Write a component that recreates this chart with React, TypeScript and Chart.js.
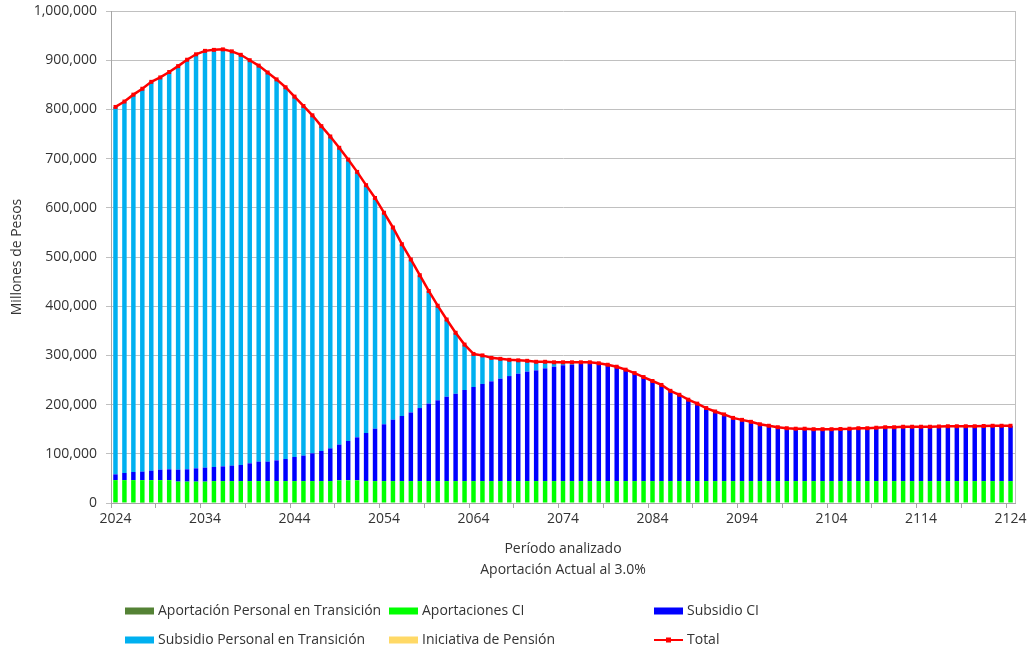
import React, { useEffect, useRef } from 'react';
import { Chart, registerables } from 'chart.js';

Chart.register(...registerables);

const FONT = "'Open Sans', 'Noto Sans', sans-serif";

const years: string[] = Array.from({ length: 101 }, (_, i) => String(2024 + i));

const aportacionPersonal = [
  1500, 1200, 1000, 800, 0, 0, 0, 0, 0, 0,
  0, 0, 0, 0, 0, 0, 0, 0, 0, 0,
  0, 0, 0, 0, 0, 0, 0, 0, 0, 0,
  0, 0, 0, 0, 0, 0, 0, 0, 0, 0,
  0, 0, 0, 0, 0, 0, 0, 0, 0, 0,
  0, 0, 0, 0, 0, 0, 0, 0, 0, 0,
  0, 0, 0, 0, 0, 0, 0, 0, 0, 0,
  0, 0, 0, 0, 0, 0, 0, 0, 0, 0,
  0, 0, 0, 0, 0, 0, 0, 0, 0, 0,
  0, 0, 0, 0, 0, 0, 0, 0, 0, 0,
  0,
];

const aportacionesCI = [
  45000, 45300, 45500, 45700, 46500, 46500, 46500, 43500, 43500, 43500,
  43500, 44500, 44500, 44500, 44500, 44500, 44500, 44500, 44500, 44500,
  44500, 44500, 44500, 44500, 44500, 46000, 46000, 46000, 44500, 44500,
  44500, 44500, 44500, 44500, 44500, 44500, 44500, 44500, 44500, 44500,
  44500, 44500, 44500, 44500, 44500, 44500, 44500, 44500, 44500, 44500,
  44500, 44500, 44500, 44500, 44500, 44500, 44500, 44500, 44500, 44500,
  44500, 44500, 44500, 44500, 44500, 44500, 44500, 44500, 44500, 44500,
  44500, 44500, 44500, 44500, 44500, 44500, 44500, 44500, 44500, 44500,
  44500, 44500, 44500, 44500, 44500, 44500, 44500, 44500, 44500, 44500,
  44500, 44500, 44500, 44500, 44500, 44500, 44500, 44500, 44500, 44500,
  44500,
];

const subsidioCI = [
  11800, 14500, 16500, 17200, 19200, 21200, 22000, 24200, 25000, 27000,
  28300, 28700, 30000, 31400, 32700, 36200, 39500, 39500, 42200, 44900,
  49000, 51700, 56500, 61200, 66500, 72600, 80000, 87500, 97800, 106500,
  115500, 124800, 132300, 139500, 148500, 157500, 164200, 171500, 177500, 185200,
  191300, 197500, 202800, 208200, 213500, 218300, 222500, 225100, 229200, 232500,
  235500, 236500, 238000, 239500, 239500, 236500, 232500, 226500, 219500, 211500,
  203500, 195500, 183500, 175500, 165500, 157500, 148500, 141500, 135500, 128500,
  124500, 120500, 115500, 112500, 109500, 107500, 106500, 106500, 105500, 105500,
  105500, 106000, 106500, 107500, 107500, 108500, 109500, 109500, 110500, 110500,
  110500, 110500, 111000, 111500, 111500, 111500, 111500, 112000, 112500, 112500,
  112500,
];

const subsidioPersonal = [
  746700, 755000, 767000, 778300, 790300, 797300, 807500, 820300, 832500, 841500,
  847200, 847800, 847500, 842100, 833800, 819300, 805000, 791000, 774300, 755600,
  732500, 710800, 687000, 660300, 634000, 603400, 572000, 539500, 503700, 469000,
  430000, 390700, 349200, 311000, 270000, 229000, 192300, 157000, 124000, 92300,
  67200, 58000, 47700, 40300, 33000, 27200, 22000, 17400, 13300, 9000,
  6000, 5000, 3500, 2000, 0, 0, 0, 0, 0, 0,
  0, 0, 0, 0, 0, 0, 0, 0, 0, 0,
  0, 0, 0, 0, 0, 0, 0, 0, 0, 0,
  0, 0, 0, 0, 0, 0, 0, 0, 0, 0,
  0, 0, 0, 0, 0, 0, 0, 0, 0, 0,
  0,
];

const iniciativaPension = [
  0, 0, 0, 0, 0, 0, 0, 0, 0, 0,
  0, 0, 0, 0, 0, 0, 0, 0, 0, 0,
  0, 0, 0, 0, 0, 0, 0, 0, 0, 0,
  0, 0, 0, 0, 0, 0, 0, 0, 0, 0,
  0, 0, 0, 0, 0, 0, 0, 0, 0, 0,
  0, 0, 0, 0, 0, 0, 0, 0, 0, 0,
  0, 0, 0, 0, 0, 0, 0, 0, 0, 0,
  0, 0, 0, 0, 0, 0, 0, 0, 0, 0,
  0, 0, 0, 0, 0, 0, 0, 0, 0, 0,
  0, 0, 0, 0, 0, 0, 0, 0, 0, 0,
  0,
];

const total = [
  805000, 816000, 830000, 842000, 856000, 865000, 876000, 888000, 901000, 912000,
  919000, 921000, 922000, 918000, 911000, 900000, 889000, 875000, 861000, 845000,
  826000, 807000, 788000, 766000, 745000, 722000, 698000, 673000, 646000, 620000,
  590000, 560000, 526000, 495000, 463000, 431000, 401000, 373000, 346000, 322000,
  303000, 300000, 295000, 293000, 291000, 290000, 289000, 287000, 287000, 286000,
  286000, 286000, 286000, 286000, 284000, 281000, 277000, 271000, 264000, 256000,
  248000, 240000, 228000, 220000, 210000, 202000, 193000, 186000, 180000, 173000,
  169000, 165000, 160000, 157000, 154000, 152000, 151000, 151000, 150000, 150000,
  150000, 150500, 151000, 152000, 152000, 153000, 154000, 154000, 155000, 155000,
  155000, 155000, 155500, 156000, 156000, 156000, 156000, 156500, 157000, 157000,
  157000,
];

const seriesLabels = [
  'Aportación Personal en Transición',
  'Aportaciones CI',
  'Subsidio CI',
  'Subsidio Personal en Transición',
  'Iniciativa de Pensión',
  'Total',
];

const TEXT = '#333333';
const GRID = '#C0C0C0';
const AXIS = '#A6A6A6';
const FS = 14;

const legendPlugin = {
  id: 'gridLegend',
  afterDraw(chart: any) {
    const ctx = chart.ctx;
    const cols = [125, 389, 654];
    const rows = [611, 640];
    ctx.save();
    ctx.font = `${FS}px ${FONT}`;
    ctx.textBaseline = 'middle';
    ctx.textAlign = 'left';
    chart.data.datasets.forEach((ds: any, i: number) => {
      const x = cols[i % 3];
      const y = rows[Math.floor(i / 3)];
      if (ds.type === 'line') {
        ctx.strokeStyle = ds.borderColor;
        ctx.lineWidth = 2;
        ctx.beginPath();
        ctx.moveTo(x, y);
        ctx.lineTo(x + 29, y);
        ctx.stroke();
        ctx.fillStyle = ds.borderColor;
        ctx.fillRect(x + 12, y - 2.5, 5, 5);
      } else {
        ctx.fillStyle = ds.backgroundColor;
        ctx.fillRect(x, y - 3.5, 29, 7);
      }
      ctx.fillStyle = TEXT;
      ctx.fillText(ds.label, x + 33, y);
    });
    ctx.restore();
  },
};

const borderPlugin = {
  id: 'rightBorder',
  beforeDatasetsDraw(chart: any) {
    const { ctx, chartArea } = chart;
    ctx.save();
    ctx.strokeStyle = GRID;
    ctx.lineWidth = 1;
    ctx.beginPath();
    ctx.moveTo(Math.round(chartArea.right) + 0.5, chartArea.top);
    ctx.lineTo(Math.round(chartArea.right) + 0.5, chartArea.bottom);
    ctx.stroke();
    ctx.restore();
  },
};

export default function App() {
  const ref = useRef<HTMLCanvasElement | null>(null);

  useEffect(() => {
    document.body.style.margin = '0';
    if (!ref.current) return;
    const barBase = {
      type: 'bar' as const,
      stack: 'bars',
      barPercentage: 0.5,
      categoryPercentage: 1,
      borderWidth: 0,
      order: 2,
    };
    const chart = new Chart(ref.current, {
      type: 'bar',
      data: {
        labels: years,
        datasets: [
          { ...barBase, label: seriesLabels[0], data: aportacionPersonal, backgroundColor: '#548235' },
          { ...barBase, label: seriesLabels[1], data: aportacionesCI, backgroundColor: '#00FF00' },
          { ...barBase, label: seriesLabels[2], data: subsidioCI, backgroundColor: '#0000FF' },
          { ...barBase, label: seriesLabels[3], data: subsidioPersonal, backgroundColor: '#00B0F0' },
          { ...barBase, label: seriesLabels[4], data: iniciativaPension, backgroundColor: '#FFD966' },
          {
            type: 'line' as const,
            label: seriesLabels[5],
            data: total,
            stack: 'total',
            borderColor: '#FF0000',
            backgroundColor: '#FF0000',
            borderWidth: 2.5,
            pointStyle: 'rect',
            pointRadius: 2.8,
            pointBorderWidth: 0,
            pointBackgroundColor: '#FF0000',
            tension: 0,
            order: 0,
          } as any,
        ],
      },
      options: {
        responsive: false,
        animation: false,
        events: [],
        layout: { padding: { left: 0, right: 12, top: 11, bottom: 66 } },
        plugins: {
          legend: { display: false },
          tooltip: { enabled: false },
        },
        scales: {
          x: {
            stacked: true,
            offset: true,
            grid: {
              offset: true,
              drawOnChartArea: false,
              drawTicks: true,
              tickLength: 5,
              color: (c: any) => (c.index % 5 === 0 ? AXIS : 'rgba(0,0,0,0)'),
            },
            border: { display: true, color: AXIS },
            ticks: {
              autoSkip: false,
              maxRotation: 0,
              padding: 3,
              color: TEXT,
              font: { family: FONT, size: FS },
              callback: (_v: any, i: number) => (i % 10 === 0 ? years[i] : ''),
            },
            title: {
              display: true,
              text: ['Período analizado', 'Aportación Actual al 3.0%'],
              color: TEXT,
              font: { family: FONT, size: FS, lineHeight: '21px' },
              padding: { top: 0, bottom: 2 },
            },
            afterFit: (s: any) => {
              s.height = 80;
              s.paddingLeft = 0;
              s.paddingRight = 0;
            },
          },
          y: {
            stacked: true,
            min: 0,
            max: 1000000,
            grid: { color: GRID, tickLength: 5, drawTicks: true },
            border: { display: true, color: AXIS },
            ticks: {
              stepSize: 100000,
              padding: 9,
              color: TEXT,
              font: { family: FONT, size: FS },
              callback: (v: any) => Number(v).toLocaleString('en-US'),
            },
            title: {
              display: true,
              text: 'Millones de Pesos',
              color: TEXT,
              font: { family: FONT, size: FS },
              padding: { top: 9, bottom: 0 },
            },
            afterFit: (s: any) => {
              s.width = 111;
              s.paddingTop = 0;
              s.paddingBottom = 0;
            },
          },
        },
      },
      plugins: [legendPlugin, borderPlugin],
    });
    return () => chart.destroy();
  }, []);

  return (
    <div style={{ position: 'absolute', left: 0, top: 0, width: 1027, height: 649 }}>
      <canvas ref={ref} width={1027} height={649} style={{ width: 1027, height: 649 }} />
    </div>
  );
}
